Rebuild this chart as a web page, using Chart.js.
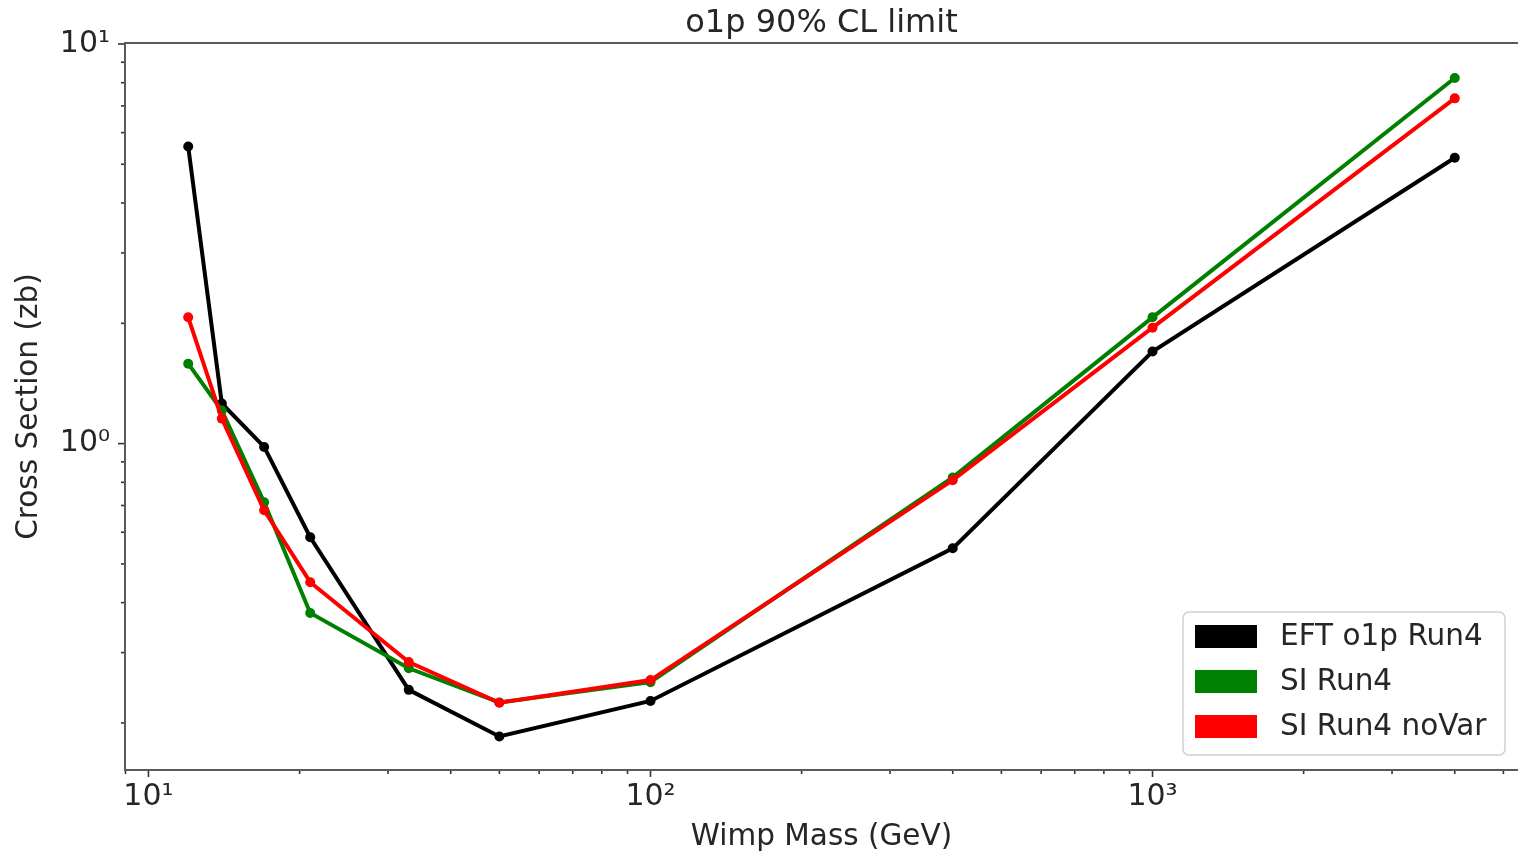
<!DOCTYPE html>
<html>
<head>
<meta charset="utf-8">
<script src="https://cdn.jsdelivr.net/npm/chart.js@4.4.1/dist/chart.umd.min.js"></script>
<style>
  html, body { margin: 0; padding: 0; background: #ffffff; }
  #wrap { width: 1518px; height: 857px; position: relative; }
</style>
</head>
<body>
<div id="wrap"><canvas id="c"></canvas></div>
<script>
// ---- data ----
const masses = [12, 14, 17, 21, 33, 50, 100, 400, 1000, 4000];          // GeV
const eftO1pRun4 = [5.54, 1.26, 0.981, 0.583, 0.242, 0.185, 0.227, 0.547, 1.70, 5.19];
const siRun4 = [1.585, 1.21, 0.713, 0.377, 0.274, 0.225, 0.253, 0.823, 2.07, 8.22];
const siRun4NoVar = [2.07, 1.155, 0.681, 0.45, 0.284, 0.2246, 0.256, 0.81, 1.95, 7.31];
const seriesLabels = ['EFT o1p Run4', 'SI Run4', 'SI Run4 noVar'];
const chartTitle = 'o1p 90% CL limit';
const xTitle = 'Wimp Mass (GeV)';
const yTitle = 'Cross Section (zb)';
const xRange = [8.98, 5346];
const yRange = [0.1525, 10.05];

const FONT = 'DejaVu Sans';
const TEXT = '#262626';
Chart.defaults.font.family = FONT;
Chart.defaults.color = TEXT;

const SUP = { '0': '\u2070', '1': '\u00B9', '2': '\u00B2', '3': '\u00B3', '4': '\u2074', '-': '\u207B' };
function powLabel(v) {
  const e = Math.log10(v);
  const r = Math.round(e);
  if (Math.abs(e - r) > 1e-6) return '';
  return '10' + String(r).split('').map(c => SUP[c]).join('');
}
function logTickValues(min, max) {
  const out = [];
  for (let d = Math.floor(Math.log10(min)); d <= Math.ceil(Math.log10(max)); d++) {
    for (let k = 1; k <= 9; k++) {
      const v = k * Math.pow(10, d);
      if (v >= min * 0.99999 && v <= max * 1.00001) out.push({ v, major: k === 1 });
    }
  }
  return out;
}
const pts = ys => masses.map((m, i) => ({ x: m, y: ys[i] }));

// frame + matplotlib-style tick marks
const axesPlugin = {
  id: 'mplAxes',
  afterDatasetsDraw(chart) {
    const { ctx, chartArea: a, scales: { x, y } } = chart;
    ctx.save();
    ctx.strokeStyle = '#333';
    ctx.lineWidth = 1.6;
    for (const t of logTickValues(x.min, x.max)) {
      const px = x.getPixelForValue(t.v);
      const len = t.major ? 7 : 4;
      ctx.beginPath(); ctx.moveTo(px, a.bottom); ctx.lineTo(px, a.bottom + len); ctx.stroke();
    }
    for (const t of logTickValues(y.min, y.max)) {
      const py = y.getPixelForValue(t.v);
      const len = t.major ? 7 : 4;
      ctx.beginPath(); ctx.moveTo(a.left, py); ctx.lineTo(a.left - len, py); ctx.stroke();
    }
    ctx.strokeStyle = '#5a5a5a';
    ctx.lineWidth = 2;
    ctx.beginPath();
    ctx.moveTo(a.right + 1, a.top); ctx.lineTo(a.left, a.top); ctx.lineTo(a.left, a.bottom); ctx.lineTo(a.right + 1, a.bottom);
    ctx.stroke();
    ctx.restore();
  }
};

// legend drawn inside the plot area (lower right), matplotlib style
const legendPlugin = {
  id: 'mplLegend',
  afterDraw(chart) {
    const { ctx, chartArea: a } = chart;
    const w = 322, h = 143;
    const x0 = a.right - 13 - w, y0 = a.bottom - 15 - h;
    ctx.save();
    ctx.beginPath();
    ctx.roundRect(x0, y0, w, h, 6);
    ctx.fillStyle = 'rgba(255,255,255,0.85)';
    ctx.fill();
    ctx.strokeStyle = '#d0d0d0';
    ctx.lineWidth = 1.5;
    ctx.stroke();
    ctx.font = '29.5px "' + FONT + '"';
    ctx.textBaseline = 'middle';
    ctx.textAlign = 'left';
    chart.data.datasets.forEach((ds, i) => {
      const cy = y0 + 24.5 + i * 45;
      ctx.fillStyle = ds.borderColor;
      ctx.fillRect(x0 + 12, cy - 11.5, 62, 23);
      ctx.fillStyle = TEXT;
      ctx.fillText(ds.label, x0 + 97, cy + 1);
    });
    ctx.restore();
  }
};

const mk = (label, ys, color, order) => ({
  label, data: pts(ys), borderColor: color, backgroundColor: color,
  pointBackgroundColor: color, pointBorderColor: color, pointBorderWidth: 0,
  pointRadius: 5, borderWidth: 4, tension: 0, fill: false, order
});

new Chart(document.getElementById('c'), {
  type: 'line',
  data: {
    datasets: [
      mk(seriesLabels[0], eftO1pRun4, '#000000', 2),
      mk(seriesLabels[1], siRun4, '#008000', 1),
      mk(seriesLabels[2], siRun4NoVar, '#ff0000', 0)
    ]
  },
  options: {
    responsive: true,
    maintainAspectRatio: false,
    devicePixelRatio: 1,
    animation: false,
    events: [],
    layout: { padding: 0, autoPadding: false },
    plugins: {
      legend: { display: false },
      tooltip: { enabled: false },
      title: {
        display: true, text: chartTitle, fullSize: false,
        color: TEXT, font: { size: 32, weight: 'normal', lineHeight: 1.2 },
        padding: { top: 4.7, bottom: 0 }
      }
    },
    scales: {
      x: {
        type: 'logarithmic', min: xRange[0], max: xRange[1],
        grid: { display: false, drawTicks: false },
        border: { display: false },
        ticks: {
          autoSkip: false, maxRotation: 0, padding: 9, color: TEXT,
          font: { size: 30, lineHeight: 1.2 },
          callback: v => powLabel(v)
        },
        title: {
          display: true, text: xTitle, color: TEXT,
          font: { size: 29.5, lineHeight: 1.2 }, padding: { top: 0, bottom: 1.5 }
        },
        afterFit: s => { s.height = 87; s.paddingLeft = 0; s.paddingRight = 0; }
      },
      y: {
        type: 'logarithmic', min: yRange[0], max: yRange[1],
        grid: { display: false, drawTicks: false },
        border: { display: false },
        ticks: {
          autoSkip: false, padding: 15, color: TEXT,
          font: { size: 30, lineHeight: 1.2 },
          callback: v => powLabel(v)
        },
        title: {
          display: true, text: yTitle, color: TEXT,
          font: { size: 29.5, lineHeight: 1.2 }, padding: { top: 12, bottom: 0 }
        },
        afterFit: s => { s.width = 125; s.paddingTop = 0; s.paddingBottom = 0; }
      }
    }
  },
  plugins: [axesPlugin, legendPlugin]
});
</script>
</body>
</html>
